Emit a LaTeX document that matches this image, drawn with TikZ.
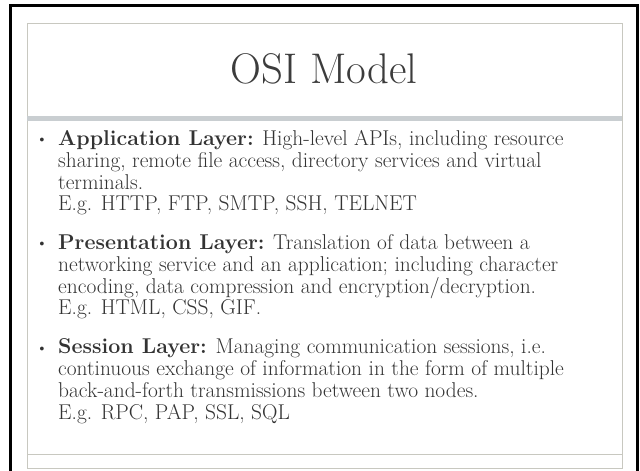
\documentclass[tikz,border=0pt]{standalone}
\usepackage{tikz}

\definecolor{slidetext}{HTML}{333333}
\definecolor{titletext}{HTML}{3C3C3C}
\definecolor{framegray}{HTML}{C8C8C0}
\definecolor{bargray}{HTML}{C9CED1}

\tikzset{
  bodytext/.style={anchor=base west, align=left, inner sep=0pt, text=slidetext,
    font=\fontsize{21.5}{22}\selectfont},
  bulletdot/.style={anchor=base, inner sep=0pt, text=slidetext,
    font=\fontsize{17}{22}\selectfont},
}

\begin{document}
\begin{tikzpicture}[x=1bp,y=-1bp]
  \useasboundingbox (0,0) rectangle (640,471);
  % slide frame
  \draw[line width=3bp] (10,471) -- (10,6) -- (637,6) -- (637,471);
  \draw[framegray] (27,23) rectangle (622,468);
  \fill[bargray] (27,116) rectangle (622,121);
  \draw[framegray] (27,454) -- (622,454);
  % title
  \node[text=titletext, font=\fontsize{43}{50}\selectfont, anchor=base] (title) at (324,84) {OSI Model};
  % bullets (nodes sit on the baseline of their last line)
  \node[bodytext] (app) at (58,211) {\textbf{Application Layer:} High-level APIs, including resource\\
    sharing, remote file access, directory services and virtual\\
    terminals.\\
    E.g. HTTP, FTP, SMTP, SSH, TELNET};
  \node[bulletdot] (appdot) at (42,145) {\textbullet};
  \node[bodytext] (pres) at (58,315) {\textbf{Presentation Layer:} Translation of data between a\\
    networking service and an application; including character\\
    encoding, data compression and encryption/decryption.\\
    E.g. HTML, CSS, GIF.};
  \node[bulletdot] (presdot) at (42,249) {\textbullet};
  \node[bodytext] (sess) at (58,419) {\textbf{Session Layer:} Managing communication sessions, i.e.\\
    continuous exchange of information in the form of multiple\\
    back-and-forth transmissions between two nodes.\\
    E.g. RPC, PAP, SSL, SQL};
  \node[bulletdot] (sessdot) at (42,353) {\textbullet};
\end{tikzpicture}
\end{document}
